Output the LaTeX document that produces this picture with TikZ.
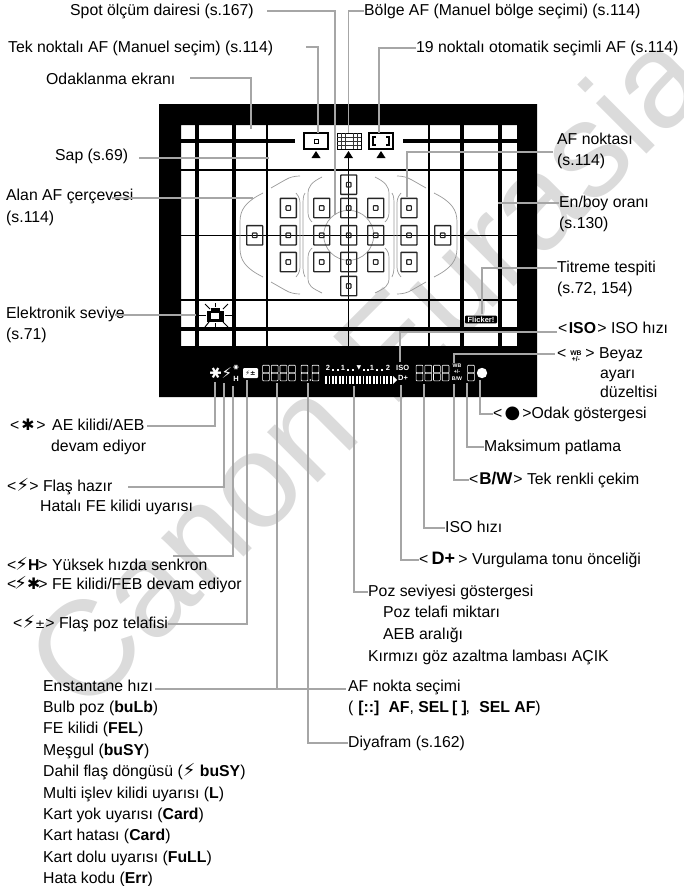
\documentclass[tikz,border=0pt]{standalone}
\usepackage{fontspec}
\setmainfont{Liberation Sans}
\newfontfamily\symfont{DejaVu Sans}
\usetikzlibrary{calc}
\tikzset{
  leader/.style={draw=black!35, line width=1.6pt},
  lbl/.style={anchor=west, inner sep=0pt, text height=11pt, text depth=3pt, font=\fontsize{15.8}{18}\selectfont},
  afpoint/.style={draw=black!85, line width=1.4pt, rounded corners=0.6pt},
  zone/.style={draw=black!40, line width=0.7pt},
  thinline/.style={draw=black, line width=1.4pt},
  thickline/.style={draw=black, line width=3.2pt},
  lcdtext/.style={text=white, inner sep=0pt, font=\bfseries\fontsize{7.5}{8}\selectfont},
  lcdtiny/.style={text=white, inner sep=0pt, font=\bfseries\fontsize{5.2}{5.2}\selectfont},
  lcdsym/.style={text=white, inner sep=0pt},
}
% seven segment digit outlined in white, centred on the given point
\newcommand{\lcdDigit}[1]{
  \draw[white, line width=0.6pt, rounded corners=0.8pt] ($(#1)+(-3.4,-7.8)$) rectangle ($(#1)+(3.4,0)$);
  \draw[white, line width=0.6pt, rounded corners=0.8pt] ($(#1)+(-3.4,0)$) rectangle ($(#1)+(3.4,7.8)$);
}
\newcommand{\afPoint}[1]{
  \draw[afpoint] ($(#1)+(-8,-9.7)$) rectangle ($(#1)+(8,9.7)$);
  \draw[afpoint, line width=1.1pt] ($(#1)+(-2.3,-2.3)$) rectangle ($(#1)+(2.3,2.3)$);
}
\newcommand{\flashSym}{{\symfont\fontsize{18}{18}\selectfont ⚡}}
\begin{document}
\begin{tikzpicture}[x=1pt, y=-1pt]
\useasboundingbox (0,0) rectangle (684,886);
% Watermark
\node[rotate=45, text=black!14, font=\fontsize{135}{135}\selectfont] (mark) at (365,368) {Canon Eurasia};
% Finder frame
\fill[black, even odd rule] (159,104) rectangle (537,397) (181,125) rectangle (517,346);
% Screen lines
\foreach \gx in {197,234,462,500} {
  \draw[thickline] (\gx,125) -- (\gx,346);
}
\foreach \gx in {267,429} {
  \draw[thinline] (\gx,125) -- (\gx,346);
}
\draw[thinline] (348.5,155) -- (348.5,346);
\draw[thinline] (181,170) -- (517,170);
\draw[thinline] (181,235.3) -- (517,235.3);
\draw[thinline] (181,300) -- (517,300);
\draw[thickline] (181,329) -- (517,329);
\draw[thickline] (181,141) -- (295,141);
\draw[thickline] (403,141) -- (517,141);
% Area frame, drawn on the left and mirrored
\foreach \flip in {1,-1} {
  \begin{scope}[shift={(348.5,0)}, xscale=\flip, shift={(-348.5,0)}]
    \draw[zone] (263,193) .. controls (245,202) and (240,210) .. (240,222) -- (240,248) .. controls (240,260) and (245,268) .. (263,277);
    \draw[zone] (271,188) -- (285,180) .. controls (290,177) and (295,176) .. (300,176);
    \draw[zone] (271,282) -- (285,290) .. controls (290,293) and (295,294) .. (300,294);
    \draw[zone] (296,193) .. controls (300,198) and (300,200) .. (300,206) -- (300,264) .. controls (300,270) and (300,272) .. (296,277);
    \draw[zone] (305,193) .. controls (303,196) and (303,200) .. (303,206) -- (303,264) .. controls (303,270) and (303,272) .. (305,277);
    \draw[zone] (322,177) .. controls (312,182) and (308,186) .. (308,194) -- (308,212) .. controls (308,216) and (309,219) .. (312,222);
    \draw[zone] (312,248) .. controls (309,251) and (308,254) .. (308,258) -- (308,278) .. controls (308,286) and (312,288) .. (322,293);
  \end{scope}
}
\draw[zone] (348.7,235.3) circle (25);
% AF points
\foreach \ax/\ay in {254.7/235.3, 288.3/208, 288.3/235.3, 288.3/262, 321.7/208, 321.7/235.3, 321.7/262, 348.7/184.7, 348.7/208, 348.7/235.3, 348.7/262, 348.7/286, 375.7/208, 375.7/235.3, 375.7/262, 409/208, 409/235.3, 409/262, 442.7/235.3} {
  \afPoint{\ax,\ay}
}
% Selection modes
\draw[black, fill=white, line width=1.3pt] (304,133) rectangle (328,149);
\draw[black, line width=1pt] (314,139) rectangle (318,143);
\draw[black, line width=1pt, fill=white] (337,133) rectangle (361,149);
\foreach \hx in {341,345,353,357} {
  \draw[black!80, line width=0.7pt] (\hx,133) -- (\hx,149);
}
\foreach \hy in {137,141,145} {
  \draw[black!80, line width=0.7pt] (337,\hy) -- (361,\hy);
}
\draw[black, line width=1.3pt, fill=white] (369,133) rectangle (393,149);
\draw[black, line width=1.3pt] (376,137) -- (373,137) -- (373,145) -- (376,145);
\draw[black, line width=1.3pt] (386,137) -- (389,137) -- (389,145) -- (386,145);
\foreach \tx in {316,348.5,381} {
  \fill[black] (\tx-4.5,158) -- (\tx+4.5,158) -- (\tx,151) -- cycle;
}
% Level icon
\foreach \rayA/\rayB/\rayC/\rayD in {198/315/206/315, 225/315/232/315, 215/303/215/307, 215/323/215/327, 205/304/210/309, 228/304/223/309, 205/327/209/322, 228/327/223/322} {
  \draw[black, line width=1pt] (\rayA,\rayB) -- (\rayC,\rayD);
}
\fill[black] (207,311) rectangle (224,322);
\fill[black] (211,308) rectangle (220,312);
\fill[white] (210.5,312.5) rectangle (218.5,318.5);
% Flicker badge
\node[fill=black, text=white, rounded corners=1pt, inner sep=1.2pt, minimum width=32pt, font=\fontsize{7.5}{8}\selectfont\bfseries] (flicker) at (481,319.5) {Flicker!};
% LCD row
\node[lcdsym, font=\symfont\fontsize{15}{15}\selectfont, rotate=90] (aelock) at (215.7,373) {✱};
\node[lcdsym, font=\symfont\fontsize{15}{15}\selectfont] (flash) at (227,373) {⚡};
\node[lcdsym, font=\symfont\fontsize{7}{7}\selectfont, rotate=90] (fstar) at (236,368) {✱};
\node[lcdtext] (fhigh) at (236,378.5) {H};
\node[fill=white, text=black, rounded corners=1pt, inner sep=0.4pt, minimum width=15pt, minimum height=10pt, font=\symfont\bfseries\fontsize{6.5}{7}\selectfont] (fcomp) at (250.5,373) {⚡±};
\foreach \dx in {266,274.7,283.4,292,304.5,315.5,419.5,428.2,436.9,445.6,471} {
  \lcdDigit{\dx,373}
}
\fill[white] (310.3,380) circle (0.9);
\foreach \sx/\st in {328/2, 343/1, 372/1, 388/2} {
  \node[lcdtext] (scale\sx) at (\sx,368) {\st};
}
\node[lcdsym, font=\symfont\fontsize{6}{6}\selectfont] (scalemark) at (359,368) {▼};
\foreach \qx in {333,338,348,353,364,368,377,382} {
  \fill[white] (\qx-1,368.5) rectangle (\qx+1,370.5);
}
\foreach \bx in {326,329.4,...,392} {
  \draw[white, line width=1.8pt] (\bx,376) -- (\bx,384);
}
\fill[white] (393,376) -- (397,380) -- (393,384) -- cycle;
\node[lcdtext] (isomark) at (402.7,368) {ISO};
\node[lcdtext] (dplus) at (403,378) {D+};
\node[lcdtiny] (wbmark) at (457,366) {WB};
\node[lcdtiny] (wbpm) at (457,372) {+/-};
\node[lcdtiny] (bwmark) at (457,378.5) {B/W};
\fill[white] (482,373) circle (5.2);
% Top labels
\node[lbl] (spot) at (70,11) {Spot ölçüm dairesi (s.167)};
\node[lbl] (zonelbl) at (364,11) {Bölge AF (Manuel bölge seçimi) (s.114)};
\node[lbl] (single) at (8,48) {Tek noktalı AF (Manuel seçim) (s.114)};
\node[lbl] (auto) at (416,48) {19 noktalı otomatik seçimli AF (s.114)};
\node[lbl] (screen) at (46,80) {Odaklanma ekranı};
\node[lbl] (grip) at (55,156) {Sap (s.69)};
\node[lbl] (areaf) at (6,196) {Alan AF çerçevesi};
\node[lbl] (areafp) at (6,218) {(s.114)};
\node[lbl] (elev) at (6,314) {Elektronik seviye};
\node[lbl] (elevp) at (6,335) {(s.71)};
% Right labels
\node[lbl] (afpt) at (557,140) {AF noktası};
\node[lbl] (afptp) at (557,161) {(s.114)};
\node[lbl] (ratio) at (559,203) {En/boy oranı};
\node[lbl] (ratiop) at (559,224) {(s.130)};
\node[lbl] (flick) at (557,268) {Titreme tespiti};
\node[lbl] (flickp) at (557,289) {(s.72, 154)};
\node[lbl] (iso) at (558,329) {<\makebox[30pt]{\textbf{ISO}}> ISO hızı};
\node[lbl] (wb) at (557,354) {<\makebox[19pt]{\raisebox{-3pt}{\parbox[b]{15pt}{\centering\fontsize{6.8}{6.4}\selectfont\bfseries WB\\[-0.5pt]+/-}}}> Beyaz};
\node[lbl] (wbb) at (600,374) {ayarı};
\node[lbl] (wbc) at (600,393) {düzeltisi};
\node[lbl] (focus) at (493,414) {<\makebox[20pt]{\symfont\fontsize{18}{18}\selectfont ●}>Odak göstergesi};
\node[lbl] (maxb) at (484,447) {Maksimum patlama};
\node[lbl] (mono) at (469,480) {<\makebox[35pt]{\fontsize{17}{18}\selectfont\textbf{B/W}}> Tek renkli çekim};
\node[lbl] (isob) at (445,528) {ISO hızı};
\node[lbl] (dprio) at (419,560) {<\makebox[30pt]{\fontsize{18}{18}\selectfont\textbf{D+}}> Vurgulama tonu önceliği};
\node[lbl] (expo) at (368,592) {Poz seviyesi göstergesi};
\node[lbl] (expob) at (383,613) {Poz telafi miktarı};
\node[lbl] (expoc) at (383,635) {AEB aralığı};
\node[lbl] (expod) at (368,657) {Kırmızı göz azaltma lambası AÇIK};
\node[lbl] (afsel) at (348,687) {AF nokta seçimi};
\node[lbl] (afselb) at (348,708) {(\makebox[30.7pt]{\textbf{[::]}} \textbf{AF}, \textbf{SEL} \makebox[12pt]{\textbf{[ ]}}, \hspace{5pt}\textbf{SEL AF})};
\node[lbl] (fnum) at (348,743) {Diyafram (s.162)};
% Left labels
\node[lbl] (aelbl) at (10,426) {<\makebox[17pt]{\symfont ✱}>\hspace{6.6pt}AE kilidi/AEB};
\node[lbl] (aelblb) at (51,447) {devam ediyor};
\node[lbl] (flbl) at (7,487) {<\makebox[13pt]{\flashSym}> Flaş hazır};
\node[lbl] (flblb) at (40,507) {Hatalı FE kilidi uyarısı};
\node[lbl] (hlbl) at (7,566) {<\makebox[22pt]{\flashSym\textbf{H}}> Yüksek hızda senkron};
\node[lbl] (felbl) at (7,585) {<\makebox[22pt]{\flashSym{\symfont✱}}> FE kilidi/FEB devam ediyor};
\node[lbl] (fclbl) at (13,624) {<\makebox[23pt]{\flashSym{\symfont\fontsize{12}{12}\selectfont ±}}> Flaş poz telafisi};
\node[lbl] (shut) at (43,687) {Enstantane hızı};
\node[lbl] (rowb) at (43,708.4) {Bulb poz (\textbf{buLb})};
\node[lbl] (rowc) at (43,729.8) {FE kilidi (\textbf{FEL})};
\node[lbl] (rowd) at (43,751.2) {Meşgul (\textbf{buSY})};
\node[lbl] (rowe) at (43,772.6) {Dahil flaş döngüsü (\flashSym\ \textbf{buSY})};
\node[lbl] (rowf) at (43,794) {Multi işlev kilidi uyarısı (\textbf{L})};
\node[lbl] (rowg) at (43,815.4) {Kart yok uyarısı (\textbf{Card})};
\node[lbl] (rowh) at (43,836.8) {Kart hatası (\textbf{Card})};
\node[lbl] (rowi) at (43,858.2) {Kart dolu uyarısı (\textbf{FuLL})};
\node[lbl] (rowj) at (43,879.6) {Hata kodu (\textbf{Err})};
% Free ends of the leaders
\coordinate (spotin) at (335,215);
\coordinate (spotout) at (267,11);
\coordinate (zonein) at (348.5,133);
\coordinate (singlein) at (318,133);
\coordinate (singleout) at (306,47);
\coordinate (autoin) at (379,133);
\coordinate (screenin) at (251,129);
\coordinate (screenout) at (190,78);
\coordinate (gripin) at (269,158);
\coordinate (gripout) at (139,158);
\coordinate (areain) at (253,198);
\coordinate (areaout) at (112,198);
\coordinate (elevin) at (196,315);
\coordinate (elevout) at (115,315);
\coordinate (afptin) at (407,197);
\coordinate (afptout) at (553,152);
\coordinate (ratioin) at (498,203);
\coordinate (flickin) at (482,314);
\coordinate (isoin) at (400,362);
\coordinate (isoout) at (557,332);
\coordinate (wbin) at (454,363);
\coordinate (wbout) at (555,354);
\coordinate (dotin) at (480,380);
\coordinate (maxin) at (467,383);
\coordinate (monoin) at (454,384);
\coordinate (isobin) at (424,384);
\coordinate (dprioin) at (401,385);
\coordinate (expoin) at (354,386);
\coordinate (fnumin) at (308,383);
\coordinate (afselout) at (346,689);
\coordinate (shutout) at (155,689);
\coordinate (shutin) at (277,383);
\coordinate (aein) at (215,382);
\coordinate (aeout) at (147,426);
\coordinate (flin) at (224,383);
\coordinate (flout) at (128,487);
\coordinate (hin) at (233,386);
\coordinate (hout) at (173,556);
\coordinate (fcin) at (247,380);
\coordinate (fcout) at (168,624);
% Leaders on top
\draw[leader] (spotout) -| (spotin);
\draw[leader] (zonelbl.west) -| (zonein);
\draw[leader] (singleout) -| (singlein);
\draw[leader] (auto.west) -| (autoin);
\draw[leader] (screenout) -| (screenin);
\draw[leader] (gripout) -- (gripin);
\draw[leader] (areaout) -- (areain);
\draw[leader] (elevout) -- (elevin);
% Leaders on the right
\draw[leader] (afptin) |- (afptout);
\draw[leader] (ratioin) -- (ratio.west);
\draw[leader] (flickin) |- (flick.west);
\draw[leader] (isoin) |- (isoout);
\draw[leader] (wbin) |- (wbout);
\draw[leader] (dotin) |- (focus.west);
\draw[leader] (maxin) |- (maxb.west);
\draw[leader] (monoin) |- (mono.west);
\draw[leader] (isobin) |- (isob.west);
\draw[leader] (dprioin) |- (dprio.west);
\draw[leader] (expoin) |- (expo.west);
\draw[leader] (fnumin) |- (fnum.west);
% Leaders on the left
\draw[leader] (aein) |- (aeout);
\draw[leader] (flin) |- (flout);
\draw[leader] (hin) |- (hout);
\draw[leader] (fcin) |- (fcout);
\draw[leader] (shutin) |- (shutout);
\draw[leader] (shutout) -- (afselout);
\end{tikzpicture}
\end{document}
